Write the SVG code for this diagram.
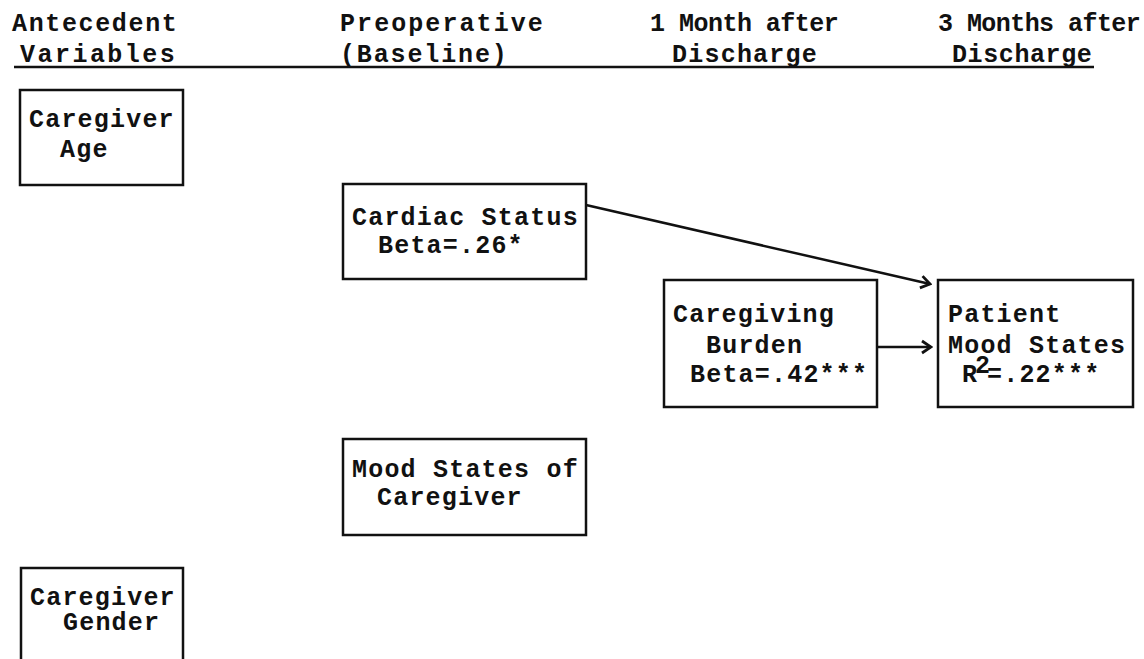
<svg xmlns="http://www.w3.org/2000/svg" width="1144" height="659" viewBox="0 0 1144 659">
<defs>
<style>
text{font-family:"Liberation Mono","DejaVu Sans Mono",monospace;font-weight:bold;font-size:25px;letter-spacing:1.2px;fill:#111}
.box{fill:#fff;stroke:#111;stroke-width:2.5}
.con{fill:none;stroke:#111;stroke-width:2.5}
</style>
<marker id="arr" markerUnits="userSpaceOnUse" markerWidth="14" markerHeight="16" viewBox="0 0 14 16" refX="12" refY="8" orient="auto">
<path d="M3,2 L12,8 L3,14" fill="none" stroke="#111" stroke-width="2.8"/>
</marker>
</defs>
<rect width="1144" height="659" fill="#fff"/>
<g id="header">
<text x="12" y="31" textLength="166" lengthAdjust="spacing">Antecedent</text>
<text x="20" y="62" textLength="156" lengthAdjust="spacing">Variables</text>
<text x="340" y="31" textLength="204" lengthAdjust="spacing">Preoperative</text>
<text x="340" y="62" textLength="168" lengthAdjust="spacing">(Baseline)</text>
<text x="650" y="31" textLength="190" lengthAdjust="spacing">1 Month after</text>
<text x="672" y="62" textLength="146" lengthAdjust="spacing">Discharge</text>
<text x="938" y="31" textLength="204" lengthAdjust="spacing">3 Months after</text>
<text x="952" y="62" textLength="141" lengthAdjust="spacing">Discharge</text>
<line x1="14" y1="67" x2="1094" y2="67" stroke="#111" stroke-width="2.5"/>
</g>
<g id="connectors">
<line class="con" x1="586" y1="205" x2="930" y2="284" marker-end="url(#arr)"/>
<line class="con" x1="877" y1="347" x2="931" y2="347" marker-end="url(#arr)"/>
</g>
<g id="caregiver-age">
<rect class="box" x="20" y="90" width="163" height="95"/>
<text x="29" y="127">Caregiver</text>
<text x="60" y="157">Age</text>
</g>
<g id="cardiac-status">
<rect class="box" x="343" y="184" width="243" height="95"/>
<text x="352" y="225">Cardiac Status</text>
<text x="378" y="253">Beta=.26*</text>
</g>
<g id="caregiving-burden">
<rect class="box" x="664" y="280" width="213" height="127"/>
<text x="673" y="322">Caregiving</text>
<text x="706" y="353">Burden</text>
<text x="690" y="382">Beta=.42***</text>
</g>
<g id="patient-mood">
<rect class="box" x="938" y="280" width="195" height="127"/>
<text x="948" y="322">Patient</text>
<text x="948" y="353">Mood States</text>
<text x="962" y="382">R</text>
<text x="975" y="373">2</text>
<text x="987" y="382">=.22***</text>
</g>
<g id="mood-caregiver">
<rect class="box" x="343" y="439" width="243" height="96"/>
<text x="352" y="477">Mood States of</text>
<text x="377" y="505">Caregiver</text>
</g>
<g id="caregiver-gender">
<rect class="box" x="21" y="568" width="162" height="110"/>
<text x="30" y="605">Caregiver</text>
<text x="63" y="630">Gender</text>
</g>
</svg>
